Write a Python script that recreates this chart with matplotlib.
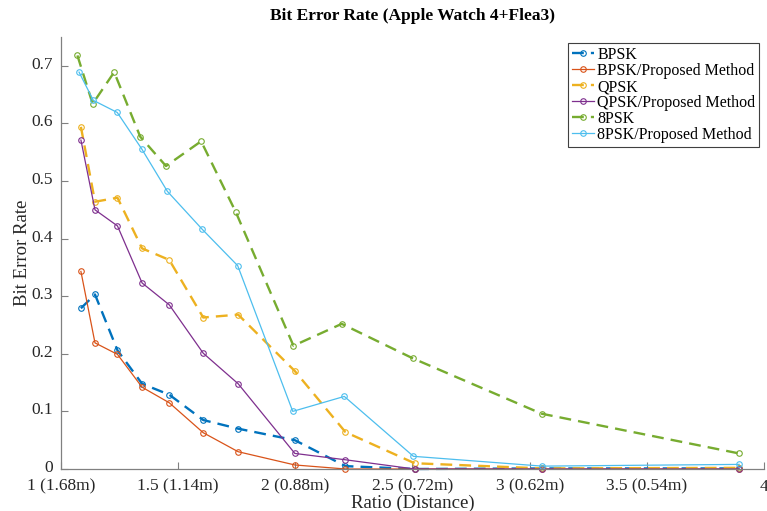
import matplotlib
matplotlib.use("Agg")
import matplotlib.pyplot as plt
from matplotlib.transforms import ScaledTranslation

# ratio positions of the measurements
x_ratio = [1.085, 1.145, 1.241, 1.346, 1.462, 1.607, 1.756, 1.998, 2.214, 2.509, 3.054, 3.894]
x_8psk = [1.070, 1.135, 1.227, 1.338, 1.448, 1.598, 1.746, 1.992, 2.198, 2.502, 3.051, 3.894]
x_8psk_pm = [1.077, 1.138, 1.240, 1.344, 1.454, 1.603, 1.754, 1.989, 2.209, 2.504, 3.053, 3.894]

ber_bpsk = [0.279, 0.303, 0.206, 0.148, 0.129, 0.085, 0.070, 0.050, 0.005, 0.000, 0.001, 0.001]
ber_bpsk_pm = [0.343, 0.219, 0.199, 0.142, 0.115, 0.063, 0.030, 0.007, 0.000, 0.000, 0.000, 0.000]
ber_qpsk = [0.594, 0.464, 0.471, 0.383, 0.363, 0.263, 0.268, 0.170, 0.064, 0.010, 0.001, 0.002]
ber_qpsk_pm = [0.571, 0.450, 0.422, 0.323, 0.285, 0.201, 0.148, 0.027, 0.016, 0.000, 0.000, 0.000]
ber_8psk = [0.718, 0.634, 0.689, 0.577, 0.526, 0.569, 0.446, 0.214, 0.252, 0.192, 0.096, 0.027]
ber_8psk_pm = [0.689, 0.640, 0.619, 0.556, 0.482, 0.416, 0.353, 0.100, 0.126, 0.022, 0.005, 0.008]

xtick_vals = [1, 1.5, 2, 2.5, 3, 3.5, 4]
xtick_labels = ["1 (1.68m)", "1.5 (1.14m)", "2 (0.88m)", "2.5 (0.72m)",
                "3 (0.62m)", "3.5 (0.54m)", "4"]
ytick_vals = [0, 0.1, 0.2, 0.3, 0.4, 0.5, 0.6, 0.7]
ytick_labels = ["0", "0.1", "0.2", "0.3", "0.4", "0.5", "0.6", "0.7"]

plt.rcParams['font.family'] = ['Liberation Serif', 'DejaVu Serif']

fig = plt.figure(figsize=(7.67, 5.11), dpi=100)
ax = fig.add_axes([61 / 767, 42 / 511, 703 / 767, 432 / 511])

series = [
    (x_ratio, ber_bpsk, "BPSK", "#0072BD", (0, (5, 3)), 1.7),
    (x_ratio, ber_bpsk_pm, "BPSK/Proposed Method", "#D95319", "-", 0.9),
    (x_ratio, ber_qpsk, "QPSK", "#EDB120", (0, (5, 3)), 1.7),
    (x_ratio, ber_qpsk_pm, "QPSK/Proposed Method", "#7E2F8E", "-", 0.9),
    (x_8psk, ber_8psk, "8PSK", "#77AC30", (0, (5, 3)), 1.7),
    (x_8psk_pm, ber_8psk_pm, "8PSK/Proposed Method", "#4DBEEE", "-", 0.9),
]
for xs, ys, name, col, ls, lw in series:
    ax.plot(xs, ys, linestyle=ls, linewidth=lw, color=col, marker='o',
            markersize=4, markerfacecolor='none', markeredgewidth=0.8,
            label=name, clip_on=False)

ax.set_xlim(1, 4)
ax.set_ylim(0, 0.75)
ax.set_xticks(xtick_vals)
ax.set_xticklabels(xtick_labels)
ax.set_yticks(ytick_vals)
ax.set_yticklabels(ytick_labels)

for side in ['top', 'right']:
    ax.spines[side].set_visible(False)
for side in ['left', 'bottom']:
    ax.spines[side].set_color('#808080')
    ax.spines[side].set_linewidth(0.9)
ax.tick_params(direction='in', length=5, width=0.8, colors='#808080',
               labelcolor='#262626', labelsize=12.5)
ax.tick_params(axis='x', pad=7)
ax.tick_params(axis='y', pad=6)

# nudge y tick labels up a little so "0" clears the x labels
lift = ScaledTranslation(0, 3 / 100, fig.dpi_scale_trans)
for lab in ax.get_yticklabels():
    lab.set_transform(lab.get_transform() + lift)

ax.set_xlabel("Ratio (Distance)", fontsize=13.5, color='#262626', labelpad=0)
ax.set_ylabel("Bit Error Rate", fontsize=13.5, color='#262626', labelpad=0)
ax.set_title("Bit Error Rate (Apple Watch 4+Flea3)", fontsize=12.5,
             fontweight='bold', color='black', pad=12)

leg = ax.legend(loc='upper right', bbox_to_anchor=(0.9935, 0.986),
                fontsize=11.5, handlelength=1.4, handletextpad=0.2,
                labelspacing=0.0, borderpad=0.25, borderaxespad=0,
                fancybox=False, framealpha=1)
leg.get_frame().set_edgecolor('#404040')
leg.get_frame().set_linewidth(0.8)

fig.savefig("out.png", dpi=100)
